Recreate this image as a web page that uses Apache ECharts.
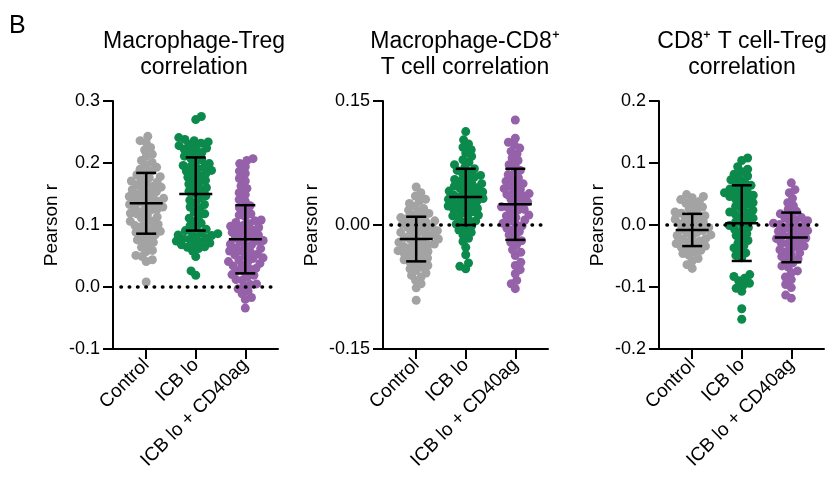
<!DOCTYPE html>
<html>
<head>
<meta charset="utf-8">
<script src="https://cdn.jsdelivr.net/npm/echarts@6/dist/echarts.min.js"></script>
<style>
  html, body { margin: 0; padding: 0; background: #fff; }
  #chart { width: 833px; height: 483px; }
</style>
</head>
<body>
<div id="chart"></div>
<script>
const categories = ['Control', 'ICB lo', 'ICB lo + CD40ag'];
const groupColors = ['#a3a3a3', '#0b8a4c', '#9561a9'];

// Macrophage-Treg
const p1Control = [0.008, 0.041, 0.044, 0.049, 0.051, 0.057, 0.059, 0.064, 0.067, 0.072,
  0.075, 0.076, 0.081, 0.084, 0.085, 0.088, 0.090, 0.092, 0.095, 0.097,
  0.099, 0.101, 0.104, 0.106, 0.106, 0.111, 0.113, 0.115, 0.118, 0.119,
  0.122, 0.124, 0.125, 0.128, 0.129, 0.131, 0.133, 0.134, 0.137, 0.138,
  0.140, 0.141, 0.143, 0.145, 0.146, 0.149, 0.150, 0.153, 0.154, 0.157,
  0.159, 0.161, 0.162, 0.165, 0.167, 0.169, 0.171, 0.173, 0.176, 0.178,
  0.181, 0.184, 0.187, 0.190, 0.193, 0.197, 0.201, 0.204, 0.211, 0.214,
  0.221, 0.225, 0.233, 0.236, 0.243];
const p1Icb = [0.019, 0.026, 0.049, 0.058, 0.062, 0.064, 0.065, 0.068, 0.070, 0.071,
  0.073, 0.074, 0.077, 0.078, 0.079, 0.081, 0.083, 0.084, 0.086, 0.087,
  0.089, 0.091, 0.093, 0.096, 0.099, 0.103, 0.106, 0.111, 0.114, 0.118,
  0.121, 0.126, 0.129, 0.133, 0.136, 0.140, 0.144, 0.147, 0.151, 0.154,
  0.157, 0.160, 0.162, 0.166, 0.169, 0.172, 0.175, 0.177, 0.180, 0.183,
  0.185, 0.187, 0.188, 0.191, 0.193, 0.195, 0.196, 0.199, 0.202, 0.205,
  0.208, 0.211, 0.214, 0.217, 0.220, 0.222, 0.224, 0.226, 0.228, 0.230,
  0.232, 0.234, 0.236, 0.238, 0.241, 0.270, 0.275];
const p1Cd40 = [-0.034, -0.020, -0.017, -0.011, -0.007, -0.003, 0.001, 0.004, 0.005, 0.011,
  0.012, 0.017, 0.019, 0.020, 0.025, 0.026, 0.029, 0.030, 0.034, 0.035,
  0.038, 0.040, 0.041, 0.044, 0.046, 0.047, 0.050, 0.052, 0.053, 0.056,
  0.058, 0.058, 0.062, 0.063, 0.066, 0.068, 0.069, 0.072, 0.074, 0.075,
  0.078, 0.079, 0.082, 0.084, 0.085, 0.088, 0.090, 0.092, 0.094, 0.096,
  0.098, 0.099, 0.102, 0.104, 0.107, 0.108, 0.113, 0.116, 0.118, 0.124,
  0.128, 0.131, 0.138, 0.141, 0.149, 0.152, 0.159, 0.163, 0.171, 0.175,
  0.183, 0.187, 0.194, 0.199, 0.204, 0.207];
const p1Mean = [0.135, 0.150, 0.077];
const p1Sd = [0.049, 0.059, 0.055];

// Macrophage-CD8+ T cell
const p2Control = [-0.091, -0.076, -0.071, -0.067, -0.063, -0.061, -0.058, -0.055, -0.053, -0.051,
  -0.049, -0.047, -0.045, -0.043, -0.042, -0.040, -0.038, -0.037, -0.035, -0.034,
  -0.032, -0.031, -0.030, -0.028, -0.027, -0.026, -0.024, -0.023, -0.022, -0.021,
  -0.019, -0.018, -0.017, -0.015, -0.014, -0.013, -0.012, -0.010, -0.009, -0.008,
  -0.007, -0.005, -0.004, -0.003, -0.002, 0.000, 0.001, 0.003, 0.004, 0.005,
  0.007, 0.008, 0.009, 0.011, 0.012, 0.014, 0.016, 0.018, 0.020, 0.023,
  0.026, 0.029, 0.031, 0.035, 0.039, 0.046];
const p2Icb = [-0.053, -0.050, -0.046, -0.036, -0.027, -0.020, -0.016, -0.012, -0.009, -0.006,
  -0.004, -0.001, 0.001, 0.003, 0.005, 0.007, 0.009, 0.011, 0.012, 0.014,
  0.016, 0.017, 0.019, 0.020, 0.022, 0.023, 0.025, 0.026, 0.027, 0.029,
  0.030, 0.031, 0.032, 0.034, 0.035, 0.036, 0.037, 0.039, 0.040, 0.041,
  0.043, 0.044, 0.045, 0.047, 0.048, 0.050, 0.051, 0.053, 0.055, 0.056,
  0.058, 0.060, 0.062, 0.064, 0.066, 0.068, 0.070, 0.073, 0.076, 0.079,
  0.083, 0.087, 0.091, 0.094, 0.098, 0.103, 0.113];
const p2Cd40 = [-0.077, -0.071, -0.067, -0.059, -0.054, -0.049, -0.045, -0.037, -0.033, -0.030,
  -0.024, -0.021, -0.019, -0.014, -0.012, -0.008, -0.006, -0.004, -0.001, 0.001,
  0.002, 0.005, 0.006, 0.009, 0.011, 0.012, 0.015, 0.018, 0.019, 0.021,
  0.022, 0.025, 0.027, 0.028, 0.031, 0.034, 0.035, 0.037, 0.038, 0.041,
  0.043, 0.044, 0.047, 0.049, 0.050, 0.053, 0.055, 0.057, 0.061, 0.063,
  0.066, 0.071, 0.073, 0.078, 0.081, 0.086, 0.089, 0.093, 0.097, 0.100,
  0.105, 0.127];
const p2Mean = [-0.017, 0.034, 0.025];
const p2Sd = [0.027, 0.034, 0.043];

// CD8+ T cell-Treg
const p3Control = [-0.070, -0.064, -0.058, -0.054, -0.049, -0.046, -0.044, -0.041, -0.038, -0.036,
  -0.034, -0.031, -0.030, -0.027, -0.026, -0.023, -0.022, -0.019, -0.017, -0.016,
  -0.013, -0.012, -0.009, -0.008, -0.005, -0.004, -0.001, 0.001, 0.002, 0.005,
  0.006, 0.009, 0.011, 0.012, 0.015, 0.017, 0.019, 0.021, 0.024, 0.026,
  0.029, 0.033, 0.035, 0.038, 0.041, 0.044, 0.046, 0.049];
const p3Icb = [-0.152, -0.135, -0.107, -0.102, -0.097, -0.094, -0.090, -0.086, -0.083, -0.080,
  -0.053, -0.049, -0.045, -0.041, -0.037, -0.033, -0.029, -0.025, -0.021, -0.017,
  -0.014, -0.010, -0.007, -0.004, -0.001, 0.002, 0.005, 0.008, 0.011, 0.014,
  0.017, 0.019, 0.021, 0.024, 0.027, 0.030, 0.033, 0.036, 0.039, 0.042,
  0.044, 0.046, 0.048, 0.050, 0.052, 0.054, 0.056, 0.058, 0.061, 0.064,
  0.067, 0.070, 0.073, 0.076, 0.079, 0.082, 0.086, 0.090, 0.094, 0.104, 0.108];
const p3Cd40 = [-0.118, -0.113, -0.101, -0.096, -0.088, -0.084, -0.077, -0.074, -0.068, -0.066,
  -0.061, -0.057, -0.055, -0.051, -0.049, -0.045, -0.043, -0.040, -0.038, -0.035,
  -0.034, -0.030, -0.029, -0.026, -0.025, -0.022, -0.021, -0.018, -0.017, -0.014,
  -0.013, -0.010, -0.009, -0.006, -0.005, -0.002, -0.001, 0.001, 0.003, 0.004,
  0.007, 0.008, 0.011, 0.012, 0.016, 0.018, 0.022, 0.025, 0.031, 0.036,
  0.043, 0.052, 0.057, 0.068];
const p3Mean = [-0.008, 0.003, -0.020];
const p3Sd = [0.026, 0.061, 0.040];

const panels = [
  { title: 'Macrophage-Treg\ncorrelation', titleX: 189, left: 113, values: [p1Control, p1Icb, p1Cd40],
    mean: p1Mean, sd: p1Sd, min: -0.1, max: 0.3, interval: 0.1, digits: 1, nameGap: 52 },
  { title: 'Macrophage-CD8\u207A\nT cell correlation', titleX: 460, left: 383, values: [p2Control, p2Icb, p2Cd40],
    mean: p2Mean, sd: p2Sd, min: -0.15, max: 0.15, interval: 0.15, digits: 2, nameGap: 62 },
  { title: 'CD8\u207A T cell-Treg\ncorrelation', titleX: 737, left: 659, values: [p3Control, p3Icb, p3Cd40],
    mean: p3Mean, sd: p3Sd, min: -0.2, max: 0.2, interval: 0.1, digits: 1, nameGap: 52 }
];

const FONT = 'Arial, "Liberation Sans", sans-serif';
const gridTop = 101, gridH = 248, gridW = 165;
const xMin = -0.67, xMax = 2.66;
const dotSize = 9;

// beeswarm offsets in pixels (layout only)
function swarm(values, pxPerY, dist) {
  const order = values.map((v, i) => i).sort((a, b) => values[a] - values[b]);
  const placed = [];
  const xs = new Array(values.length);
  order.forEach((i, k) => {
    const y = values[i] * pxPerY;
    const near = placed.filter(p => Math.abs(p.y - y) < dist);
    const cands = [0];
    near.forEach(p => {
      const w = Math.sqrt(dist * dist - (p.y - y) * (p.y - y));
      cands.push(p.x - w, p.x + w);
    });
    const side = k % 2 ? 1 : -1;
    cands.sort((a, b) => Math.abs(a) - Math.abs(b) || side * (a - b));
    const x = cands.find(c => near.every(p => (p.x - c) ** 2 + (p.y - y) ** 2 >= dist * dist - 0.01));
    placed.push({ x, y });
    xs[i] = x;
  });
  return xs;
}

const grid = [], xAxis = [], yAxis = [], series = [], title = [];
title.push({ text: 'B', left: 4, top: 9, textStyle: { fontFamily: FONT, fontSize: 25, fontWeight: 'normal', color: '#000' } });

panels.forEach((p, gi) => {
  grid.push({ left: p.left, top: gridTop, width: gridW, height: gridH });
  title.push({
    text: p.title, left: p.titleX, top: 24, textAlign: 'center',
    textStyle: { fontFamily: FONT, fontSize: 23, lineHeight: 26, fontWeight: 'normal', color: '#000' }
  });
  xAxis.push({
    type: 'value', gridIndex: gi, min: xMin, max: xMax,
    axisLine: { onZero: false, lineStyle: { color: '#000', width: 2 } },
    axisTick: { customValues: [0, 1, 2], length: 10, lineStyle: { color: '#000', width: 2 } },
    axisLabel: {
      customValues: [0, 1, 2], rotate: 45, margin: 13,
      formatter: v => categories[Math.round(v)],
      fontFamily: FONT, fontSize: 19, color: '#000'
    },
    splitLine: { show: false }
  });
  yAxis.push({
    type: 'value', gridIndex: gi, min: p.min, max: p.max, interval: p.interval,
    name: 'Pearson r', nameLocation: 'middle', nameGap: p.nameGap,
    nameTextStyle: { fontFamily: FONT, fontSize: 19, color: '#000' },
    axisLine: { show: true, onZero: false, lineStyle: { color: '#000', width: 2 } },
    axisTick: { show: true, length: 10, lineStyle: { color: '#000', width: 2 } },
    axisLabel: {
      margin: 13, fontFamily: FONT, fontSize: 18, color: '#000',
      formatter: v => v.toFixed(p.digits)
    },
    splitLine: { show: false }
  });

  const pxPerY = gridH / (p.max - p.min);
  const pxPerX = gridW / (xMax - xMin);
  p.values.forEach((vals, ci) => {
    const xs = swarm(vals, pxPerY, 6.4);
    series.push({
      type: 'scatter', xAxisIndex: gi, yAxisIndex: gi,
      symbolSize: dotSize, itemStyle: { color: groupColors[ci], opacity: 1 },
      data: vals.map((v, i) => [ci + xs[i] / pxPerX, v]),
      z: 2, silent: true
    });
  });

  // zero reference line
  series.push({
    type: 'line', xAxisIndex: gi, yAxisIndex: gi, symbol: 'none', silent: true,
    data: [[xMin + 0.16, 0], [xMax, 0]],
    lineStyle: { color: '#000', width: 3.5, type: [0.5, 7.8], cap: 'round' },
    z: 4
  });

  // mean +/- SD
  series.push({
    type: 'custom', xAxisIndex: gi, yAxisIndex: gi, silent: true, z: 5,
    data: p.mean.map((m, i) => [i, m, p.sd[i]]),
    renderItem: (params, api) => {
      const c = api.value(0), m = api.value(1), s = api.value(2);
      const pm = api.coord([c, m]);
      const pt = api.coord([c, m + s]);
      const pb = api.coord([c, m - s]);
      const st = { stroke: '#000', lineWidth: 2.5 };
      return {
        type: 'group',
        children: [
          { type: 'line', shape: { x1: pt[0], y1: pt[1], x2: pb[0], y2: pb[1] }, style: st },
          { type: 'line', shape: { x1: pm[0] - 16.5, y1: pm[1], x2: pm[0] + 16.5, y2: pm[1] }, style: st },
          { type: 'line', shape: { x1: pt[0] - 10, y1: pt[1], x2: pt[0] + 10, y2: pt[1] }, style: st },
          { type: 'line', shape: { x1: pb[0] - 10, y1: pb[1], x2: pb[0] + 10, y2: pb[1] }, style: st }
        ]
      };
    }
  });
});

const chart = echarts.init(document.getElementById('chart'));
chart.setOption({
  backgroundColor: '#fff',
  animation: false,
  title, grid, xAxis, yAxis, series
});
</script>
</body>
</html>
